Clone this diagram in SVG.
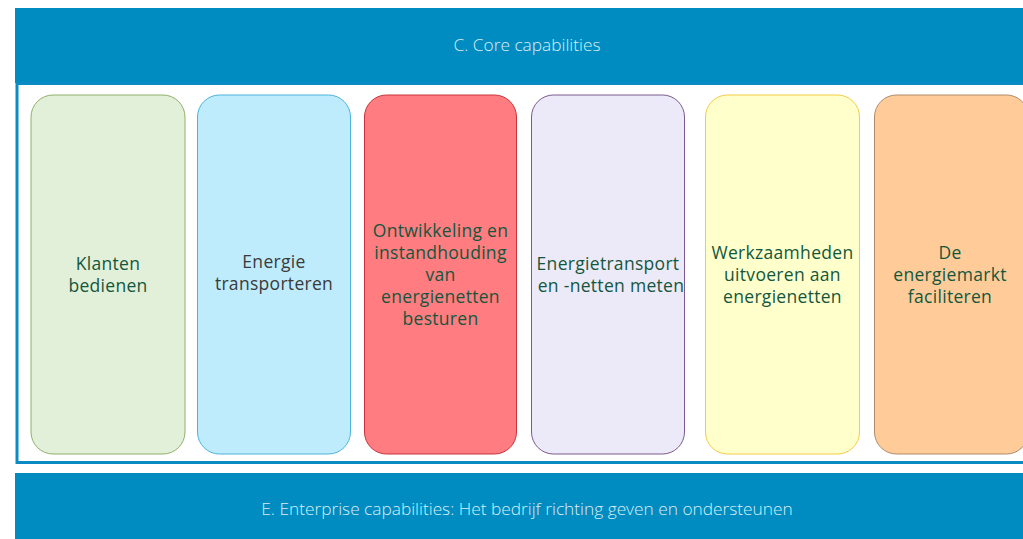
<svg xmlns="http://www.w3.org/2000/svg" width="1023" height="539" viewBox="0 0 1023 539">
<style>
.bar{fill:#008cc1}
.bt{font-family:"Open Sans","Noto Sans",sans-serif;font-size:17.3px;fill:#d9eef7;text-anchor:middle;font-weight:300}
.cap{stroke-width:1}
.t{font-family:"Open Sans","Noto Sans",sans-serif;font-size:17.5px;letter-spacing:0.3px;fill:#12573d;text-anchor:middle}
</style>
<rect width="1023" height="539" fill="#ffffff"/>
<g id="core">
<rect class="bar" x="15" y="8" width="1010" height="75"/>
<text class="bt" x="527" y="51">C. Core capabilities</text>
<rect x="17" y="83.5" width="1010" height="379" fill="#ffffff" stroke="#0a8bc4" stroke-width="3"/>
</g>
<g id="enterprise">
<rect class="bar" x="15" y="473" width="1010" height="70"/>
<text class="bt" x="527" y="515">E. Enterprise capabilities: Het bedrijf richting geven en ondersteunen</text>
</g>
<g id="n1">
<rect class="cap" x="31" y="95" width="154" height="359" rx="22" fill="#e2efd9" stroke="#8fb06a"/>
<text class="t" x="108" y="270">Klanten</text>
<text class="t" x="108" y="292">bedienen</text>
</g>
<g id="n2">
<rect class="cap" x="197.5" y="95" width="153" height="359" rx="22" fill="#bfecfc" stroke="#4db3dc"/>
<text class="t" x="274" y="268" style="fill:#3a3a3a">Energie</text>
<text class="t" x="274" y="290" style="fill:#3a3a3a">transporteren</text>
</g>
<g id="n3">
<rect class="cap" x="364.5" y="95" width="152" height="359" rx="22" fill="#ff7c80" stroke="#c8323a"/>
<text class="t" x="440.5" y="237">Ontwikkeling en</text>
<text class="t" x="440.5" y="259">instandhouding</text>
<text class="t" x="440.5" y="281">van</text>
<text class="t" x="440.5" y="303">energienetten</text>
<text class="t" x="440.5" y="325">besturen</text>
</g>
<g id="n4">
<rect class="cap" x="531.5" y="95" width="153" height="359" rx="22" fill="#ece9f8" stroke="#7b5a8a"/>
<text class="t" x="608" y="270">Energietransport</text>
<text class="t" x="611" y="292">en -netten meten</text>
</g>
<g id="n5">
<rect class="cap" x="705.5" y="95" width="154" height="359" rx="22" fill="#ffffcc" stroke="#f2cc44"/>
<text class="t" x="782.5" y="259">Werkzaamheden</text>
<text class="t" x="782.5" y="281">uitvoeren aan</text>
<text class="t" x="782.5" y="303">energienetten</text>
</g>
<g id="n6">
<rect class="cap" x="874.5" y="95" width="154" height="359" rx="22" fill="#ffcc99" stroke="#b08a6a"/>
<text class="t" x="950" y="259">De</text>
<text class="t" x="950" y="281">energiemarkt</text>
<text class="t" x="950" y="303">faciliteren</text>
</g>
<g id="connectors"></g>
</svg>
